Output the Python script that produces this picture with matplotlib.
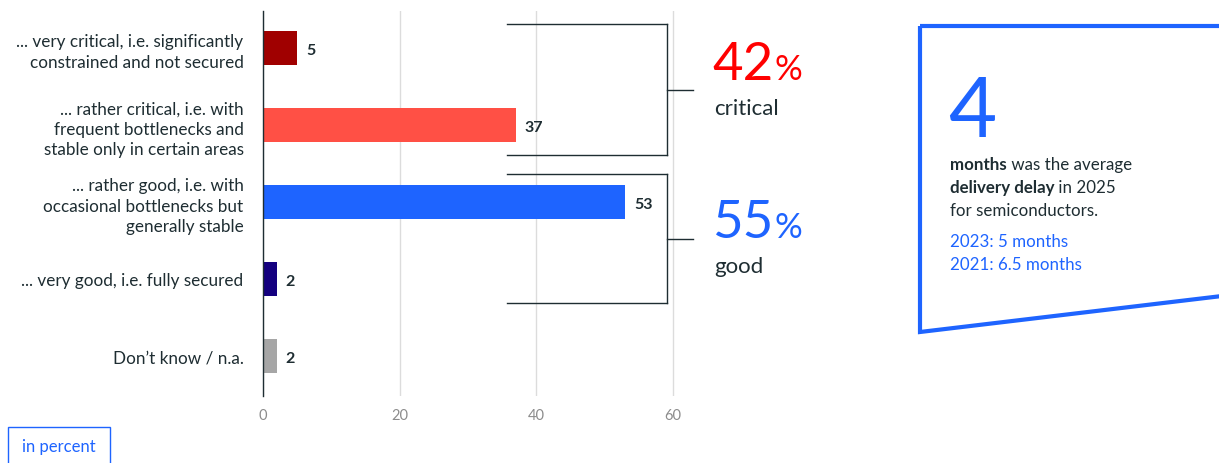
import matplotlib
matplotlib.use("Agg")
import matplotlib.pyplot as plt
from matplotlib.lines import Line2D
from matplotlib.patches import Rectangle, Polygon

plt.rcParams['font.family'] = ['Lato', 'DejaVu Sans']

categories = [
    "... very critical, i.e. significantly\nconstrained and not secured",
    "... rather critical, i.e. with\nfrequent bottlenecks and\nstable only in certain areas",
    "... rather good, i.e. with\noccasional bottlenecks but\ngenerally stable",
    "... very good, i.e. fully secured",
    "Don\u2019t know / n.a.",
]
values = [5, 37, 53, 2, 2]
bar_colors = ["#A00000", "#FF5045", "#1E64FF", "#14007F", "#A6A6A6"]
xticks = [0, 20, 40, 60]

critical_share = 42
good_share = 55
delay_2025 = 4
delay_history = ["2023: 5 months", "2021: 6.5 months"]

DARK = "#1E2D32"
BLUE = "#1E64FF"
RED = "#FF0000"

fig = plt.figure(figsize=(12.19, 4.64), dpi=100)
W, H = 1219, 464


def fx(px):
    return px / W


def fy(py):
    return 1 - py / H


# x axis runs 0..60.5 so the 60 gridline is not clipped
ax = fig.add_axes([fx(263), fy(397), fx(676.4) - fx(263), fy(12) - fy(397)])
ypos = list(range(len(categories)))
ax.barh(ypos, values, height=0.44, color=bar_colors, zorder=3)
ax.set_xlim(0, 60.5)
ax.set_ylim(4.52, -0.48)
ax.set_xticks(xticks)
ax.set_xticklabels([str(t) for t in xticks], color="#8C8C8C", fontsize=10.5)
ax.set_yticks(ypos)
ax.set_yticklabels(categories, color=DARK, fontsize=12.3, linespacing=1.35)
ax.tick_params(axis="both", length=0)
ax.tick_params(axis="y", pad=14)
ax.tick_params(axis="x", pad=9)
ax.grid(axis="x", color="#DCDCDC", linewidth=1, zorder=0)
for s in ["top", "right", "bottom"]:
    ax.spines[s].set_visible(False)
ax.spines["left"].set_color(DARK)
ax.spines["left"].set_linewidth(1)
ax.spines["left"].set_zorder(4)

for y, v in zip(ypos, values):
    ax.text(v + 1.3, y + 0.03, str(v), va="center", ha="left",
            fontsize=11.5, fontweight="bold", color=DARK)

# brackets grouping critical and good answers
def bracket(top, bottom, mid):
    kw = dict(color=DARK, linewidth=1, transform=fig.transFigure)
    fig.add_artist(Line2D([fx(507), fx(667)], [fy(top), fy(top)], **kw))
    fig.add_artist(Line2D([fx(507), fx(667)], [fy(bottom), fy(bottom)], **kw))
    fig.add_artist(Line2D([fx(667), fx(667)], [fy(top), fy(bottom)], **kw))
    fig.add_artist(Line2D([fx(667), fx(693)], [fy(mid), fy(mid)], **kw))


bracket(25, 156, 91)
bracket(175, 304, 240)

renderer = fig.canvas.get_renderer()


def share_label(value, color, word, base_y):
    t = fig.text(fx(712), fy(base_y), str(value), color=color, fontsize=38,
                 va="baseline", ha="left")
    bb = t.get_window_extent(renderer)
    fig.text(fx(bb.x1 + 1), fy(base_y), "%", color=color, fontsize=25,
             va="baseline", ha="left")
    fig.text(fx(714), fy(base_y + 35), word, color=DARK, fontsize=16,
             va="baseline", ha="left")


share_label(critical_share, RED, "critical", 80)
share_label(good_share, BLUE, "good", 238)

# info box on the right
box = Polygon([[fx(920), fy(27)], [fx(1222), fy(27)], [fx(1222), fy(297)],
               [fx(920), fy(333)]], closed=True, fill=False, edgecolor=BLUE,
              linewidth=3, transform=fig.transFigure, clip_on=False)
fig.add_artist(box)

fig.text(fx(948), fy(137), str(delay_2025), color=BLUE, fontsize=60,
         va="baseline", ha="left")


def mixed_line(parts, x, y, size=12.2):
    cur = x
    for txt, weight in parts:
        t = fig.text(fx(cur), fy(y), txt, color=DARK, fontsize=size,
                     fontweight=weight, va="baseline", ha="left")
        cur = t.get_window_extent(renderer).x1


mixed_line([("months", "bold"), (" was the average", "normal")], 950, 170)
mixed_line([("delivery delay", "bold"), (" in 2025", "normal")], 950, 193)
mixed_line([("for semiconductors.", "normal")], 950, 216)
for i, line in enumerate(delay_history):
    fig.text(fx(950), fy(247 + i * 23), line, color=BLUE, fontsize=12.2,
             va="baseline", ha="left")

# unit note
fig.add_artist(Rectangle((fx(8), fy(470)), fx(102), fy(428) - fy(470),
                         fill=False, edgecolor=BLUE, linewidth=1,
                         transform=fig.transFigure, clip_on=False))
fig.text(fx(59), fy(452), "in percent", color=BLUE, fontsize=12,
         va="baseline", ha="center")

fig.savefig("out.png", dpi=100)
